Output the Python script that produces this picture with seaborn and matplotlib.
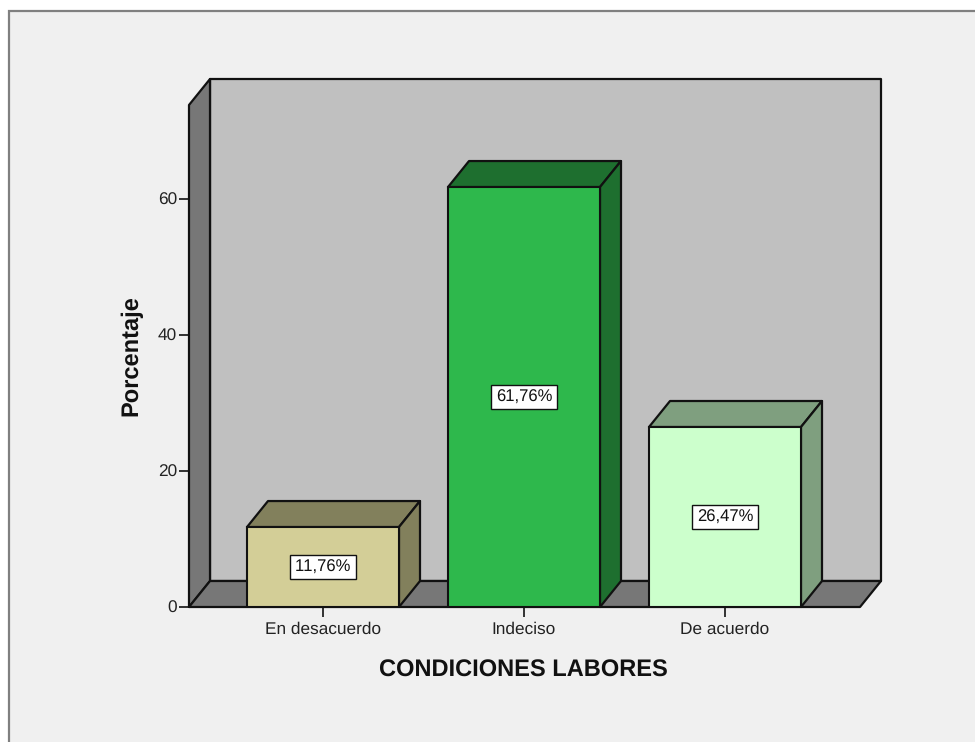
import matplotlib
matplotlib.use("Agg")
import matplotlib.pyplot as plt
from matplotlib.patches import Polygon, Rectangle
import pandas as pd
import seaborn as sns

categories = ["En desacuerdo", "Indeciso", "De acuerdo"]
percentages = [11.76, 61.76, 26.47]
value_labels = ["11,76%", "61,76%", "26,47%"]
front_colors = ["#d3ce97", "#2eb84c", "#ccffcc"]
shade_colors = ["#82805c", "#1e6f2f", "#7f9f7f"]
y_ticks = [0, 20, 40, 60]
x_title = "CONDICIONES LABORES"
y_title = "Porcentaje"

W, H = 975, 742
sns.set_theme(style="white")
plt.rcParams["font.family"] = ["Liberation Sans", "DejaVu Sans"]
plt.rcParams["text.hinting"] = "no_hinting"
plt.rcParams["text.kerning_factor"] = 6

fig = plt.figure(figsize=(W / 100, H / 100), dpi=100, facecolor="white")
fig.add_artist(Rectangle((9 / W, 1 - 1.02), 1.1, 1.02 - 11 / H, transform=fig.transFigure,
                         facecolor="#f0f0f0", edgecolor="#808080", linewidth=1.6, zorder=-5))

# axes box: back wall extent in pixels
px_left, px_right, px_top, px_bottom = 189, 881, 79, 607
ax = fig.add_axes([px_left / W, 1 - px_bottom / H, (px_right - px_left) / W, (px_bottom - px_top) / H])
ax.patch.set_alpha(0)

unit_x = 201.0   # px per category
unit_y = 6.8     # px per percent
first_center = 323.0
xlim = ((px_left - first_center) / unit_x, (px_right - first_center) / unit_x)
ylim = (0, (px_bottom - px_top) / unit_y)
dx, dy = 21 / unit_x, 26 / unit_y
bar_w = 152 / unit_x

df = pd.DataFrame({"cat": categories, "pct": percentages})
sns.barplot(data=df, x="cat", y="pct", hue="cat", order=categories, hue_order=categories,
            palette=front_colors, width=bar_w, dodge=False, legend=False,
            edgecolor="#111111", linewidth=1.5, saturation=1, ax=ax, zorder=5)
ax.set_xlim(*xlim)
ax.set_ylim(*ylim)

line = dict(edgecolor="#111111", linewidth=1.6, joinstyle="round", clip_on=False)
x0, x1 = xlim
y1 = ylim[1]
front_right = (860 - first_center) / unit_x
# back wall, side wall, floor
ax.add_patch(Polygon([(x0 + dx, dy), (x1, dy), (x1, y1), (x0 + dx, y1)], facecolor="#c0c0c0", zorder=1, **line))
ax.add_patch(Polygon([(x0, 0), (x0 + dx, dy), (x0 + dx, y1), (x0, y1 - dy)], facecolor="#777777", zorder=2, **line))
ax.add_patch(Polygon([(x0, 0), (front_right, 0), (x1, dy), (x0 + dx, dy)], facecolor="#777777", zorder=2, **line))

for i, (v, shade, lab) in enumerate(zip(percentages, shade_colors, value_labels)):
    l, r = i - bar_w / 2, i + bar_w / 2
    ax.add_patch(Polygon([(l, v), (r, v), (r + dx, v + dy), (l + dx, v + dy)], facecolor=shade, zorder=4, **line))
    ax.add_patch(Polygon([(r, 0), (r + dx, dy), (r + dx, v + dy), (r, v)], facecolor=shade, zorder=4, **line))
    ax.text(i, v / 2, lab, ha="center", va="center", fontsize=12, color="#111111", zorder=7,
            bbox=dict(boxstyle="square,pad=0.26", facecolor="white", edgecolor="#111111", linewidth=1))

sns.despine(ax=ax, left=True, bottom=True, top=True, right=True)
ax.set_yticks(y_ticks)
ax.set_xticks(range(len(categories)))
ax.set_xticklabels(categories)
ax.tick_params(axis="both", which="major", length=7.5, width=1.3, color="#222222", labelcolor="#222222",
               labelsize=12.4, pad=1, bottom=True, left=True)
ax.tick_params(axis="x", pad=3)
ax.set_xlabel(x_title, fontsize=17, fontweight="bold", color="#111111", labelpad=15.5,
              x=(523 - px_left) / (px_right - px_left))
ax.set_ylabel("")
fig.text(131 / W, 1 - 356 / H, y_title, rotation=90, ha="center", va="center",
         fontsize=17, fontweight="bold", color="#111111")

fig.savefig("out.png", dpi=100)
